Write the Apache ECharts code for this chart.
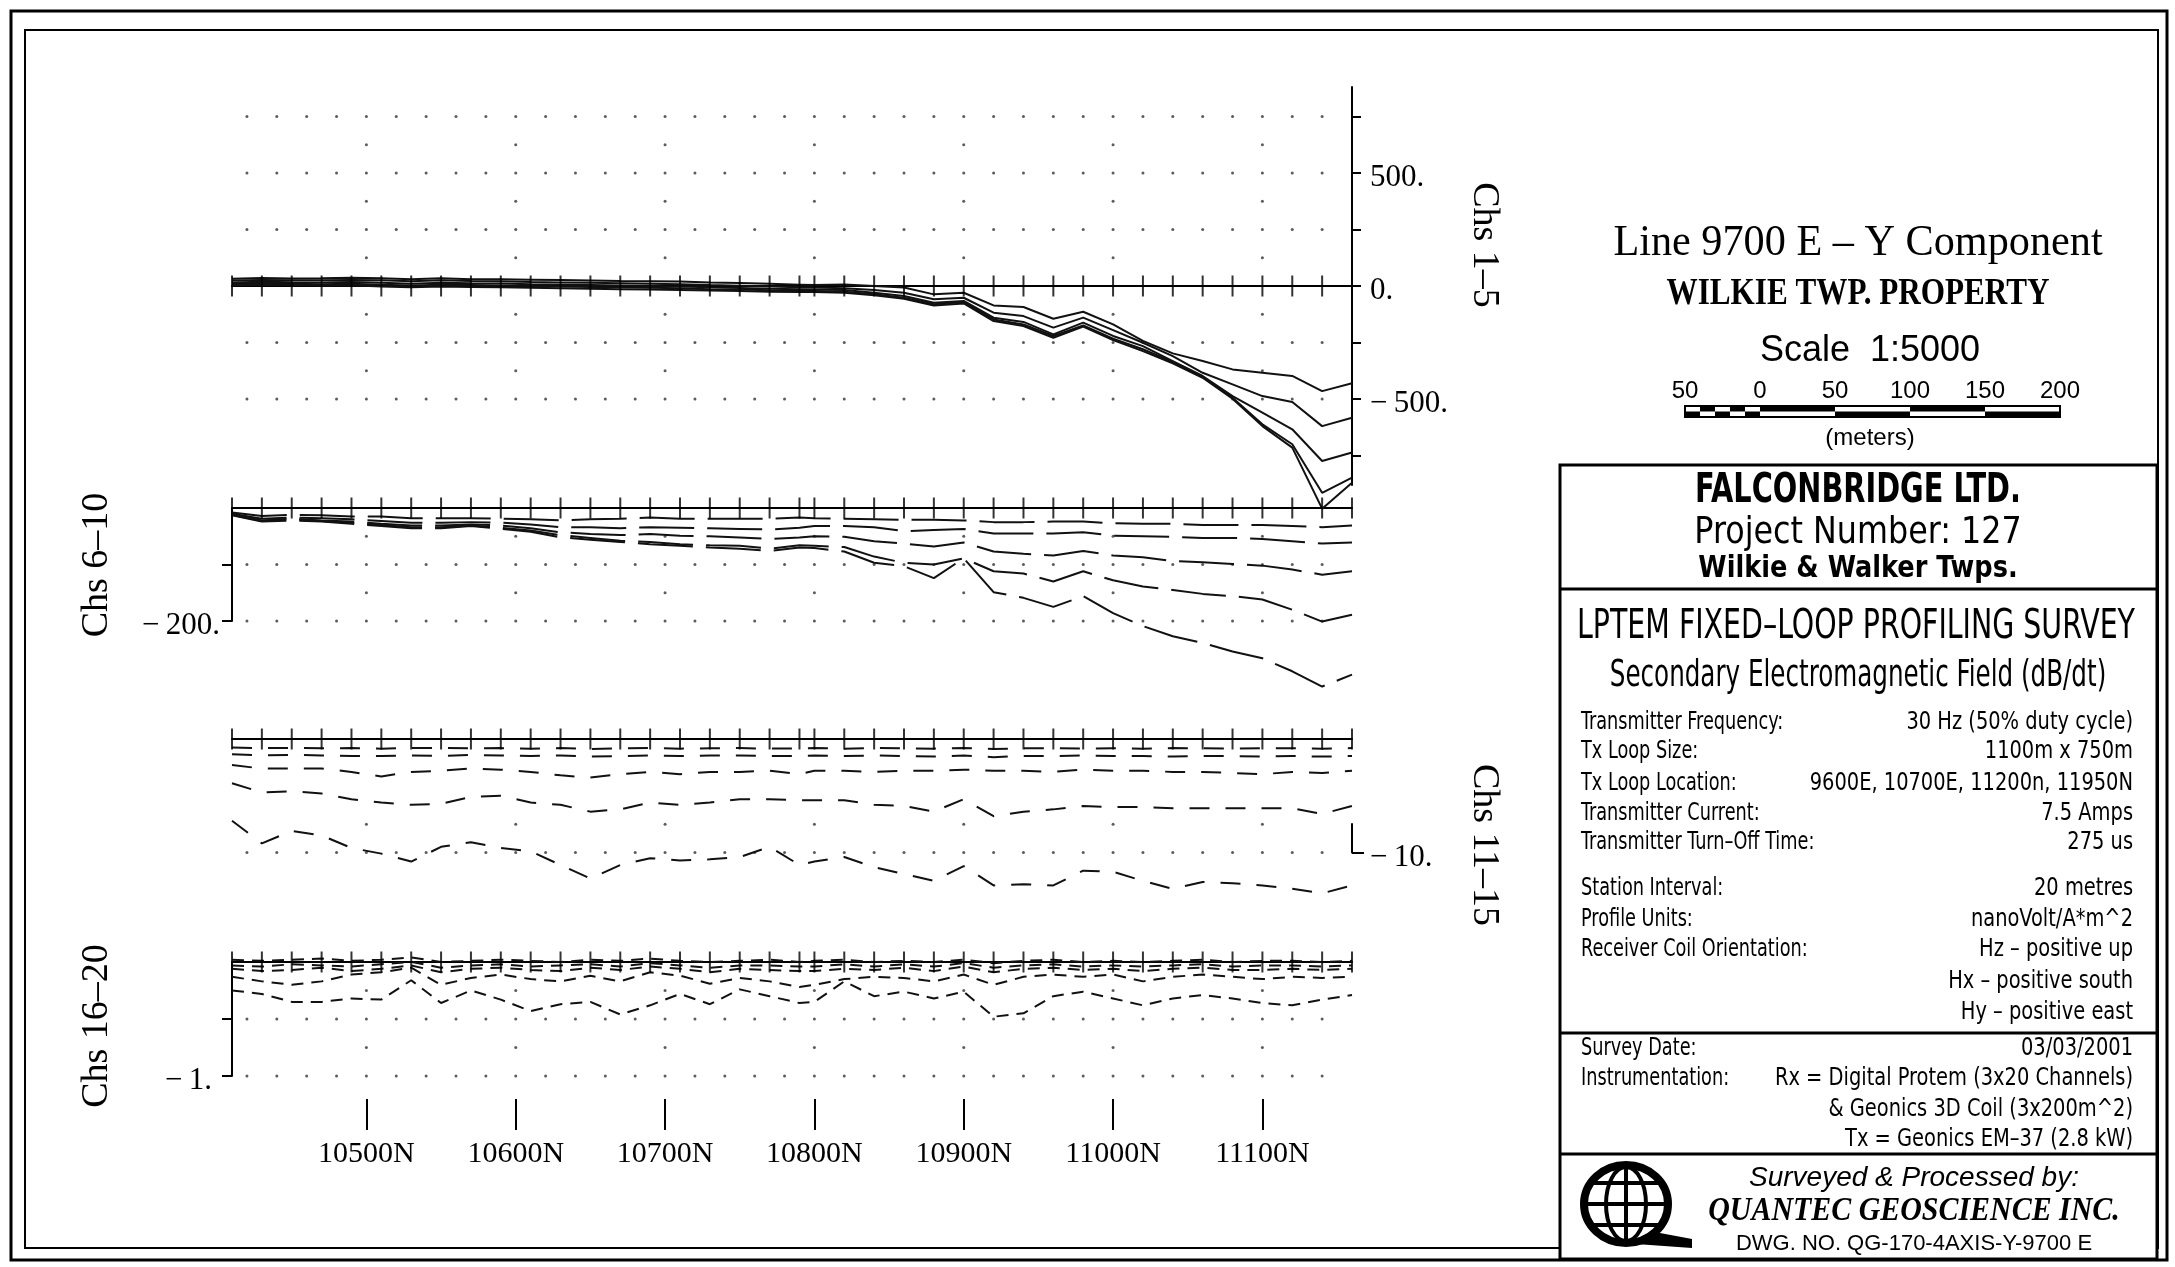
<!DOCTYPE html>
<html><head><meta charset="utf-8">
<script src="https://cdn.jsdelivr.net/npm/echarts@6/dist/echarts.min.js"></script>
<style>html,body{margin:0;padding:0;background:#fff}#c{width:2175px;height:1267px}</style>
</head><body><div id="c"></div><script>
// ---------------- DATA ----------------
const stations = [10410,10430,10450,10470,10490,10510,10530,10550,10570,10590,10610,10630,10650,10670,10690,10710,10730,10750,10770,10790,
  10800,10820,10840,10860,10880,10900,10920,10940,10960,10980,11000,11020,11040,11060,11080,11100,11120,11140,11160];
const xTickLabels = [10500,10600,10700,10800,10900,11000,11100];
const gridDotN = [10420,10440,10460,10480,10500,10520,10540,10560,10580,10600,10620,10640,10660,10680,10700,10720,10740,10760,10780,10800,
  10820,10840,10860,10880,10900,10920,10940,10960,10980,11000,11020,11040,11060,11080,11100,11120,11140];
const sparseDotN = [10500,10600,10700,10800,10900,11000,11100];

// Chs 1-5 (nV/A*m^2)
const ch5 = [32,35,33,34,36,34,30,34,30,30,28,26,24,22,21,20,16,13,10,6, 4,7,0,-7,-37,-30,-86,-93,-145,-114,-170,-243,-298,-332,-369,-384,-398,-465,-430];
const ch4 = [24,27,25,25,27,25,21,25,22,21,18,16,14,12,10,8,4,1,-2,-5, -7,-10,-18,-30,-59,-52,-118,-133,-184,-140,-195,-251,-310,-384,-435,-487,-513,-620,-583];
const ch3 = [16,19,17,16,18,14,10,14,12,11,8,6,4,2,0,-2,-6,-9,-12,-14, -15,-18,-30,-44,-74,-66,-140,-159,-214,-162,-221,-266,-332,-398,-487,-560,-634,-774,-737];
const ch2 = [10,12,10,8,10,5,2,6,4,2,0,-2,-4,-6,-8,-10,-14,-16,-19,-21, -22,-25,-37,-52,-81,-71,-148,-170,-221,-174,-233,-280,-336,-403,-494,-612,-700,-915,-848];
const ch1 = [4,6,4,2,3,-2,-6,-2,-4,-6,-8,-10,-12,-14,-16,-18,-20,-22,-25,-26, -27,-30,-41,-56,-86,-77,-155,-177,-229,-180,-239,-288,-342,-406,-499,-620,-715,-985,-870];
// Chs 6-10
const ch10 = [-8,-14,-12,-13,-15,-15,-18,-18,-18,-19,-20,-22,-20,-19,-17,-19,-19,-19,-19,-17, -18,-19,-20,-21,-21,-22,-25,-25,-24,-24,-27,-28,-28,-30,-30,-30,-32,-34,-31];
const ch9 = [-10,-19,-17,-18,-20,-23,-26,-26,-25,-26,-29,-34,-34,-36,-34,-35,-36,-37,-38,-35, -32,-32,-34,-41,-39,-37,-45,-45,-45,-43,-49,-50,-51,-53,-53,-55,-59,-63,-61];
const ch8 = [-11,-22,-19,-22,-24,-28,-31,-31,-29,-31,-36,-43,-46,-48,-46,-49,-50,-52,-55,-52, -50,-51,-59,-63,-68,-61,-77,-81,-84,-76,-84,-87,-94,-96,-99,-102,-109,-118,-112];
const ch7 = [-12,-23,-20,-23,-26,-30,-34,-34,-31,-35,-40,-48,-53,-58,-60,-64,-66,-67,-72,-66, -67,-69,-86,-97,-100,-89,-112,-116,-130,-112,-128,-139,-145,-152,-156,-162,-180,-201,-189];
const ch6 = [-13,-24,-22,-24,-28,-32,-36,-36,-32,-37,-42,-52,-56,-60,-64,-67,-70,-72,-76,-70, -71,-77,-97,-103,-124,-89,-149,-159,-175,-156,-186,-209,-227,-239,-254,-266,-289,-316,-295];
// Chs 11-15
const ch15 = [-0.75,-0.8,-0.78,-0.82,-0.8,-0.85,-0.8,-0.78,-0.82,-0.8,-0.85,-0.8,-0.88,-0.82,-0.8,-0.85,-0.82,-0.8,-0.85,-0.82, -0.8,-0.85,-0.8,-0.82,-0.85,-0.8,-0.88,-0.82,-0.8,-0.85,-0.82,-0.85,-0.8,-0.82,-0.85,-0.8,-0.82,-0.85,-0.8];
const ch14 = [-1.35,-1.45,-1.4,-1.45,-1.5,-1.5,-1.45,-1.5,-1.4,-1.45,-1.5,-1.45,-1.55,-1.5,-1.45,-1.5,-1.45,-1.45,-1.5,-1.5, -1.45,-1.5,-1.45,-1.5,-1.55,-1.45,-1.6,-1.5,-1.5,-1.45,-1.5,-1.5,-1.55,-1.5,-1.5,-1.55,-1.5,-1.55,-1.5];
const ch13 = [-2.3,-2.6,-2.6,-2.6,-2.9,-3.3,-2.9,-2.8,-2.6,-2.7,-2.9,-3.2,-3.4,-3.1,-2.9,-3.1,-2.9,-2.9,-2.8,-3.1, -2.8,-2.8,-2.9,-2.8,-2.8,-2.7,-2.8,-2.8,-2.9,-2.7,-2.8,-2.8,-2.9,-2.9,-3.0,-3.1,-2.9,-3.0,-2.8];
const ch12 = [-3.9,-4.7,-4.6,-4.8,-5.3,-5.6,-5.8,-5.7,-5.1,-5.0,-5.6,-5.8,-6.4,-6.2,-5.6,-5.8,-5.6,-5.3,-5.3,-5.4, -5.4,-5.4,-5.8,-5.9,-6.4,-5.3,-6.8,-6.4,-6.2,-5.9,-6.0,-6.0,-6.1,-6.1,-6.1,-6.1,-6.1,-6.6,-5.9];
const ch11 = [-7.2,-9.2,-8.1,-8.5,-9.6,-10.1,-10.8,-9.5,-9.1,-9.6,-9.9,-11.1,-12.3,-11.1,-10.5,-10.7,-10.6,-10.4,-9.5,-11.1, -10.8,-10.4,-11.3,-11.9,-12.5,-11.2,-12.9,-12.8,-12.9,-11.6,-11.7,-12.5,-13.2,-12.6,-12.7,-12.9,-13.2,-13.6,-12.9];
// Chs 16-20
const ch20 = [0.02,0.01,0.02,0.03,0.01,0.02,0.04,0.0,0.01,0.02,0.01,0.0,0.02,0.01,0.03,0.01,0.0,0.01,0.02,0.0, 0.01,0.02,0.0,0.01,0.0,0.02,-0.01,0.01,0.02,0.0,0.01,0.0,0.01,0.02,0.0,0.01,0.01,0.0,0.01];
const ch19 = [-0.03,-0.04,-0.02,-0.03,-0.04,-0.02,0.0,-0.05,-0.03,-0.02,-0.04,-0.03,-0.02,-0.04,-0.01,-0.03,-0.05,-0.03,-0.03,-0.04, -0.04,-0.02,-0.04,-0.02,-0.04,-0.01,-0.05,-0.03,-0.02,-0.04,-0.03,-0.04,-0.03,-0.02,-0.04,-0.03,-0.03,-0.04,-0.03];
const ch18 = [-0.06,-0.08,-0.07,-0.05,-0.08,-0.06,-0.03,-0.09,-0.06,-0.05,-0.07,-0.08,-0.05,-0.07,-0.04,-0.06,-0.09,-0.06,-0.07,-0.08, -0.08,-0.06,-0.07,-0.05,-0.08,-0.04,-0.09,-0.06,-0.05,-0.07,-0.06,-0.08,-0.06,-0.05,-0.07,-0.07,-0.06,-0.07,-0.06];
const ch17 = [-0.13,-0.17,-0.2,-0.17,-0.11,-0.09,-0.05,-0.2,-0.14,-0.11,-0.15,-0.17,-0.12,-0.17,-0.09,-0.12,-0.19,-0.14,-0.17,-0.22, -0.2,-0.15,-0.13,-0.14,-0.17,-0.11,-0.2,-0.13,-0.11,-0.13,-0.11,-0.17,-0.13,-0.11,-0.13,-0.15,-0.13,-0.14,-0.13];
const ch16 = [-0.25,-0.28,-0.35,-0.35,-0.32,-0.33,-0.16,-0.36,-0.25,-0.33,-0.43,-0.37,-0.35,-0.46,-0.38,-0.28,-0.37,-0.24,-0.3,-0.36, -0.35,-0.17,-0.3,-0.26,-0.32,-0.26,-0.48,-0.45,-0.3,-0.26,-0.32,-0.38,-0.32,-0.29,-0.32,-0.36,-0.38,-0.33,-0.29];

// axis ticks / grid rows
const p1Ticks = [750,500,250,0,-250,-500,-750], p1Labels = [500,0,-500];
const p2Ticks = [-100,-200], p2Labels = [-200];
const p3Ticks = [-10], p3Labels = [-10];
const p4Ticks = [-0.5,-1], p4Labels = [-1];
const p1Major = [750,500,250,-250,-500], p1Minor = [625,375,125,-125,-375];
const p2Major = [-100,-200], p2Minor = [-50,-150];
const p3Major = [-10], p3Minor = [-7.5];
const p4Major = [-0.5,-1], p4Minor = [-0.25,-0.75];

// ---------------- LAYOUT ----------------
const SERIF = '"Liberation Serif","Times New Roman",serif';
const SANSN = '"Liberation Sans Narrow","DejaVu Sans Condensed","Liberation Sans",sans-serif';
const SANS = '"Liberation Sans","DejaVu Sans",sans-serif';
const X0 = 232, XW = 1120, XMIN = 10410, XMAX = 11160;
const grids = [
  {top: 87.1, height: 397.8},   // 0 Chs 1-5
  {top: 508, height: 113},      // 1 Chs 6-10
  {top: 739, height: 113.5},    // 2 Chs 11-15
  {top: 824.1, height: 28.4},   // 3 Chs 11-15 axis segment
  {top: 962, height: 114},      // 4 Chs 16-20
  {top: 1098, height: 1}        // 5 station label axis
];
const fmt = v => (v < 0 ? '\u2212\u2009' : '') + Math.abs(v) + '.';
const axLabel = {color:'#000', fontFamily: SERIF, fontSize: 31, formatter: fmt, verticalAlign:'top', lineHeight:10};

const xAxes = grids.map((g, i) => ({
  type:'value', gridIndex:i, min:XMIN, max:XMAX,
  axisLine:{show: (i!==3 && i!==5), onZero:true, lineStyle:{color:'#000', width:2}},
  axisTick:{show:false}, axisLabel:{show:false}, splitLine:{show:false}
}));
xAxes[5] = {type:'value', gridIndex:5, min:XMIN, max:XMAX, position:'bottom',
  axisLine:{show:false},
  axisTick:{show:true, customValues:xTickLabels, length:31, inside:false, lineStyle:{color:'#000', width:2}},
  axisLabel:{show:true, customValues:xTickLabels, margin:40, color:'#000', fontFamily:SERIF, fontSize:30, formatter: v => v + 'N'},
  splitLine:{show:false}};

const yAxes = [
  {gridIndex:0, type:'value', min:-880, max:880, position:'right',
    axisLine:{show:true, lineStyle:{color:'#000', width:2}},
    axisTick:{show:true, customValues:p1Ticks, length:9, lineStyle:{color:'#000', width:2}},
    axisLabel:Object.assign({customValues:p1Labels, margin:18}, axLabel), splitLine:{show:false}},
  {gridIndex:1, type:'value', min:-200, max:0, position:'left',
    axisLine:{show:true, lineStyle:{color:'#000', width:2}},
    axisTick:{show:true, customValues:p2Ticks, length:10, lineStyle:{color:'#000', width:2}},
    axisLabel:Object.assign({customValues:p2Labels, margin:12}, axLabel), splitLine:{show:false}},
  {gridIndex:2, type:'value', min:-10, max:0, show:false},
  {gridIndex:3, type:'value', min:-10, max:-7.5, position:'right',
    axisLine:{show:true, lineStyle:{color:'#000', width:2}},
    axisTick:{show:true, customValues:p3Ticks, length:12, lineStyle:{color:'#000', width:2}},
    axisLabel:Object.assign({customValues:p3Labels, margin:18}, axLabel), splitLine:{show:false}},
  {gridIndex:4, type:'value', min:-1, max:0, position:'left',
    axisLine:{show:true, lineStyle:{color:'#000', width:2}},
    axisTick:{show:true, customValues:p4Ticks, length:10, lineStyle:{color:'#000', width:2}},
    axisLabel:Object.assign({customValues:p4Labels, margin:20}, axLabel), splitLine:{show:false}},
  {gridIndex:5, type:'value', min:0, max:1, show:false}
];

function line(vals, gi, dash) {
  return {type:'line', xAxisIndex:gi, yAxisIndex:gi, data: stations.map((n, i) => [n, vals[i]]),
    symbol:'none', clip:false, silent:true, animation:false, z:3,
    lineStyle:{color:'#111', width:2, type:dash}};
}
function crosses(gi) {
  return {type:'scatter', xAxisIndex:gi, yAxisIndex:gi, data: stations.map(n => [n, 0]),
    symbol:'rect', symbolSize:[2, 21], itemStyle:{color:'#000'}, silent:true, animation:false, z:4};
}
function dots(gi, major, minor) {
  const d = [];
  major.forEach(v => gridDotN.forEach(n => d.push([n, v])));
  minor.forEach(v => sparseDotN.forEach(n => d.push([n, v])));
  return {type:'scatter', xAxisIndex:gi, yAxisIndex:gi, data:d, symbol:'circle', symbolSize:3,
    itemStyle:{color:'#333'}, silent:true, animation:false, z:2};
}

const series = [
  dots(0, p1Major, p1Minor), dots(1, p2Major, p2Minor), dots(2, p3Major, p3Minor), dots(4, p4Major, p4Minor),
  line(ch1,0,'solid'), line(ch2,0,'solid'), line(ch3,0,'solid'), line(ch4,0,'solid'), line(ch5,0,'solid'),
  line(ch6,1,[55,13]), line(ch7,1,[55,13]), line(ch8,1,[55,13]), line(ch9,1,[55,13]), line(ch10,1,[55,13]),
  line(ch11,2,[20,16]), line(ch12,2,[20,16]), line(ch13,2,[20,16]), line(ch14,2,[20,16]), line(ch15,2,[20,16]),
  line(ch16,4,[12,8]), line(ch17,4,[12,8]), line(ch18,4,[12,8]), line(ch19,4,[12,8]), line(ch20,4,[12,8]),
  crosses(0), crosses(1), crosses(2), crosses(4)
];

// ---------------- GRAPHICS (text, title block) ----------------
function T(text, x, y, font, align, sx, rot) {
  return {type:'text', x:x, y:y, rotation: rot || 0, scaleX: sx || 1, silent:true,
    style:{text:text, font:font, fill:'#000', textAlign: align || 'center', textVerticalAlign:'middle',
      align: align || 'center', verticalAlign:'middle'}};
}
function L(x1, y1, x2, y2, w) {
  return {type:'line', silent:true, shape:{x1:x1, y1:y1, x2:x2, y2:y2}, style:{stroke:'#000', lineWidth: w || 2}};
}
function R(x, y, w, h, fill, lw) {
  return {type:'rect', silent:true, shape:{x:x, y:y, width:w, height:h}, style:{fill: fill || 'none', stroke:'#000', lineWidth: lw == null ? 2 : lw}};
}
const g = [];
// frames
g.push(R(25, 30, 2133, 1218, 'none', 2));
g.push(R(11, 11, 2156, 1249, 'none', 3));
// channel labels
g.push(T('Chs 1\u20135', 1484, 245, '38px ' + SERIF, 'center', 1, -Math.PI/2));
g.push(T('Chs 11\u201315', 1484, 845, '38px ' + SERIF, 'center', 1, -Math.PI/2));
g.push(T('Chs 6\u201310', 97, 565, '38px ' + SERIF, 'center', 1, Math.PI/2));
g.push(T('Chs 16\u201320', 97, 1026, '38px ' + SERIF, 'center', 1, Math.PI/2));
// titles
g.push(T('Line 9700 E \u2013 Y Component', 1858, 243, '44px ' + SERIF, 'center', 0.96));
g.push(T('WILKIE TWP. PROPERTY', 1858, 294, 'bold 38px ' + SERIF, 'center', 0.82));
g.push(T('Scale  1:5000', 1870, 351, '36px ' + SANS, 'center', 1.0));
const scaleLab = [['50',1685],['0',1760],['50',1835],['100',1910],['150',1985],['200',2060]];
scaleLab.forEach(s => g.push(T(s[0], s[1], 391, '24px ' + SANS)));
// scale bar
const by = 406, bh = 11;
g.push(R(1685, by, 375, bh, '#fff', 2));
const segs = [[1685,15,0],[1700,15,1],[1715,15,0],[1730,15,1],[1745,15,0],[1760,75,1],[1835,75,0],[1910,75,1],[1985,75,0]];
segs.forEach(s => {
  g.push({type:'rect', silent:true, shape:{x:s[0], y: s[2] ? by : by + bh/2, width:s[1], height:bh/2}, style:{fill:'#000'}});
});
g.push(T('(meters)', 1870, 438, '24px ' + SANS));
// title block box
g.push(R(1560, 465, 597, 794, '#fff', 3));
g.push(L(1560, 589, 2157, 589, 3));
g.push(L(1560, 1033, 2157, 1033, 3));
g.push(L(1560, 1154, 2157, 1154, 3));
g.push(T('FALCONBRIDGE LTD.', 1858, 492, 'bold 40px ' + SANSN, 'center', 0.80));
g.push(T('Project Number: 127', 1858, 533, '38px ' + SANSN, 'center', 0.93));
g.push(T('Wilkie & Walker Twps.', 1858, 569, 'bold 30px ' + SANSN, 'center', 0.95));
g.push(T('LPTEM FIXED\u2013LOOP PROFILING SURVEY', 1856, 628, '40px ' + SANSN, 'center', 0.79));
g.push(T('Secondary Electromagnetic Field (dB/dt)', 1858, 676, '38px ' + SANSN, 'center', 0.72));
const rows = [
  ['Transmitter Frequency:', '30 Hz (50% duty cycle)', 723],
  ['Tx Loop Size:', '1100m x 750m', 752],
  ['Tx Loop Location:', '9600E, 10700E, 11200n, 11950N', 784],
  ['Transmitter Current:', '7.5 Amps', 814],
  ['Transmitter Turn\u2013Off Time:', '275 us', 843],
  ['Station Interval:', '20 metres', 889],
  ['Profile Units:', 'nanoVolt/A*m^2', 920],
  ['Receiver Coil Orientation:', 'Hz \u2013 positive up', 950],
  ['', 'Hx \u2013 positive south', 982],
  ['', 'Hy \u2013 positive east', 1013],
  ['Survey Date:', '03/03/2001', 1049],
  ['Instrumentation:', 'Rx = Digital Protem (3x20 Channels)', 1079],
  ['', '& Geonics 3D Coil (3x200m^2)', 1110],
  ['', 'Tx = Geonics EM\u201337 (2.8 kW)', 1140]
];
rows.forEach(r => {
  if (r[0]) g.push(T(r[0], 1581, r[2], '24px ' + SANSN, 'left', 0.82));
  g.push(T(r[1], 2133, r[2], '24px ' + SANSN, 'right', 0.9));
});
// logo
const cx = 1626, cy = 1204;
g.push({type:'polygon', silent:true, shape:{points:[[1644,1230],[1692,1239],[1692,1248],[1636,1244]]}, style:{fill:'#000'}});
g.push({type:'ellipse', silent:true, shape:{cx:cx, cy:cy, rx:42, ry:39}, style:{fill:'#fff', stroke:'#000', lineWidth:8}});
g.push({type:'ellipse', silent:true, shape:{cx:cx, cy:cy, rx:20, ry:37}, style:{fill:'none', stroke:'#000', lineWidth:4}});
g.push(L(cx, cy-37, cx, cy+37, 4));
g.push(L(cx-40, cy, cx+40, cy, 4));
g.push(L(cx-33, cy-21, cx+33, cy-21, 4));
g.push(L(cx-33, cy+21, cx+33, cy+21, 4));
g.push(T('Surveyed & Processed by:', 1914, 1178, 'italic 28px ' + SANS));
g.push(T('QUANTEC GEOSCIENCE INC.', 1914, 1211, 'italic bold 34px ' + SERIF, 'center', 0.88));
g.push(T('DWG. NO. QG-170-4AXIS-Y-9700 E', 1914, 1244, '22px ' + SANS));

const chart = echarts.init(document.getElementById('c'), null, {renderer:'canvas', width:2175, height:1267});
chart.setOption({
  backgroundColor:'#fff', animation:false,
  grid: grids.map(gr => ({left:X0, width:XW, top:gr.top, height:gr.height, containLabel:false})),
  xAxis: xAxes, yAxis: yAxes, series: series, graphic: {elements: g}
});
</script></body></html>
